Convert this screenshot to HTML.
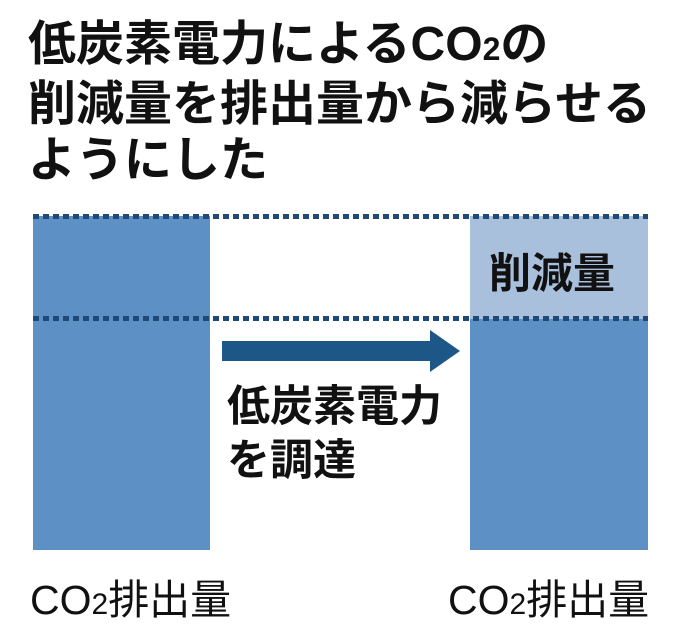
<!DOCTYPE html>
<html><head><meta charset="utf-8"><style>
html,body{margin:0;padding:0;background:#fff;}
body{width:680px;height:631px;position:relative;overflow:hidden;font-family:"Liberation Sans","Noto Sans CJK JP",sans-serif;}
.t{position:absolute;left:28px;top:17px;font-size:48px;line-height:56px;font-weight:bold;color:#111;letter-spacing:0px;white-space:nowrap;}
.abs{position:absolute;}
.dots{position:absolute;left:33px;width:615px;height:5px;background:repeating-linear-gradient(90deg,#1f4a78 0 6px,transparent 6px 10px);}
.lbl{position:absolute;font-size:41px;color:#111;white-space:nowrap;}
</style></head><body>
<div class="t">低炭素電力によるCO<span style="font-size:32px">2</span>の<br>削減量を排出量から減らせる<br>ようにした</div>
<div class="abs" style="left:33px;top:216px;width:177px;height:334px;background:#5d90c5"></div>
<div class="abs" style="left:470px;top:216px;width:178px;height:103px;background:#a9c0dd"></div>
<div class="abs" style="left:470px;top:319px;width:178px;height:231px;background:#5d90c5"></div>
<div class="dots" style="top:214px"></div>
<div class="dots" style="top:316px"></div>
<svg class="abs" style="left:0;top:0" width="680" height="631">
<rect x="222" y="341" width="210" height="20" fill="#1d5788"/>
<polygon points="430,330 460,351 430,372" fill="#1d5788"/>
</svg>
<div class="abs" style="left:489px;top:240px;font-size:42px;font-weight:bold;color:#111">削減量</div>
<div class="abs" style="left:227px;top:380px;font-size:43px;line-height:54px;font-weight:bold;color:#111">低炭素電力<br>を調達</div>
<div class="lbl" style="left:30px;top:566px">CO<span style="font-size:30px">2</span>排出量</div>
<div class="lbl" style="left:448px;top:566px">CO<span style="font-size:30px">2</span>排出量</div>
</body></html>
